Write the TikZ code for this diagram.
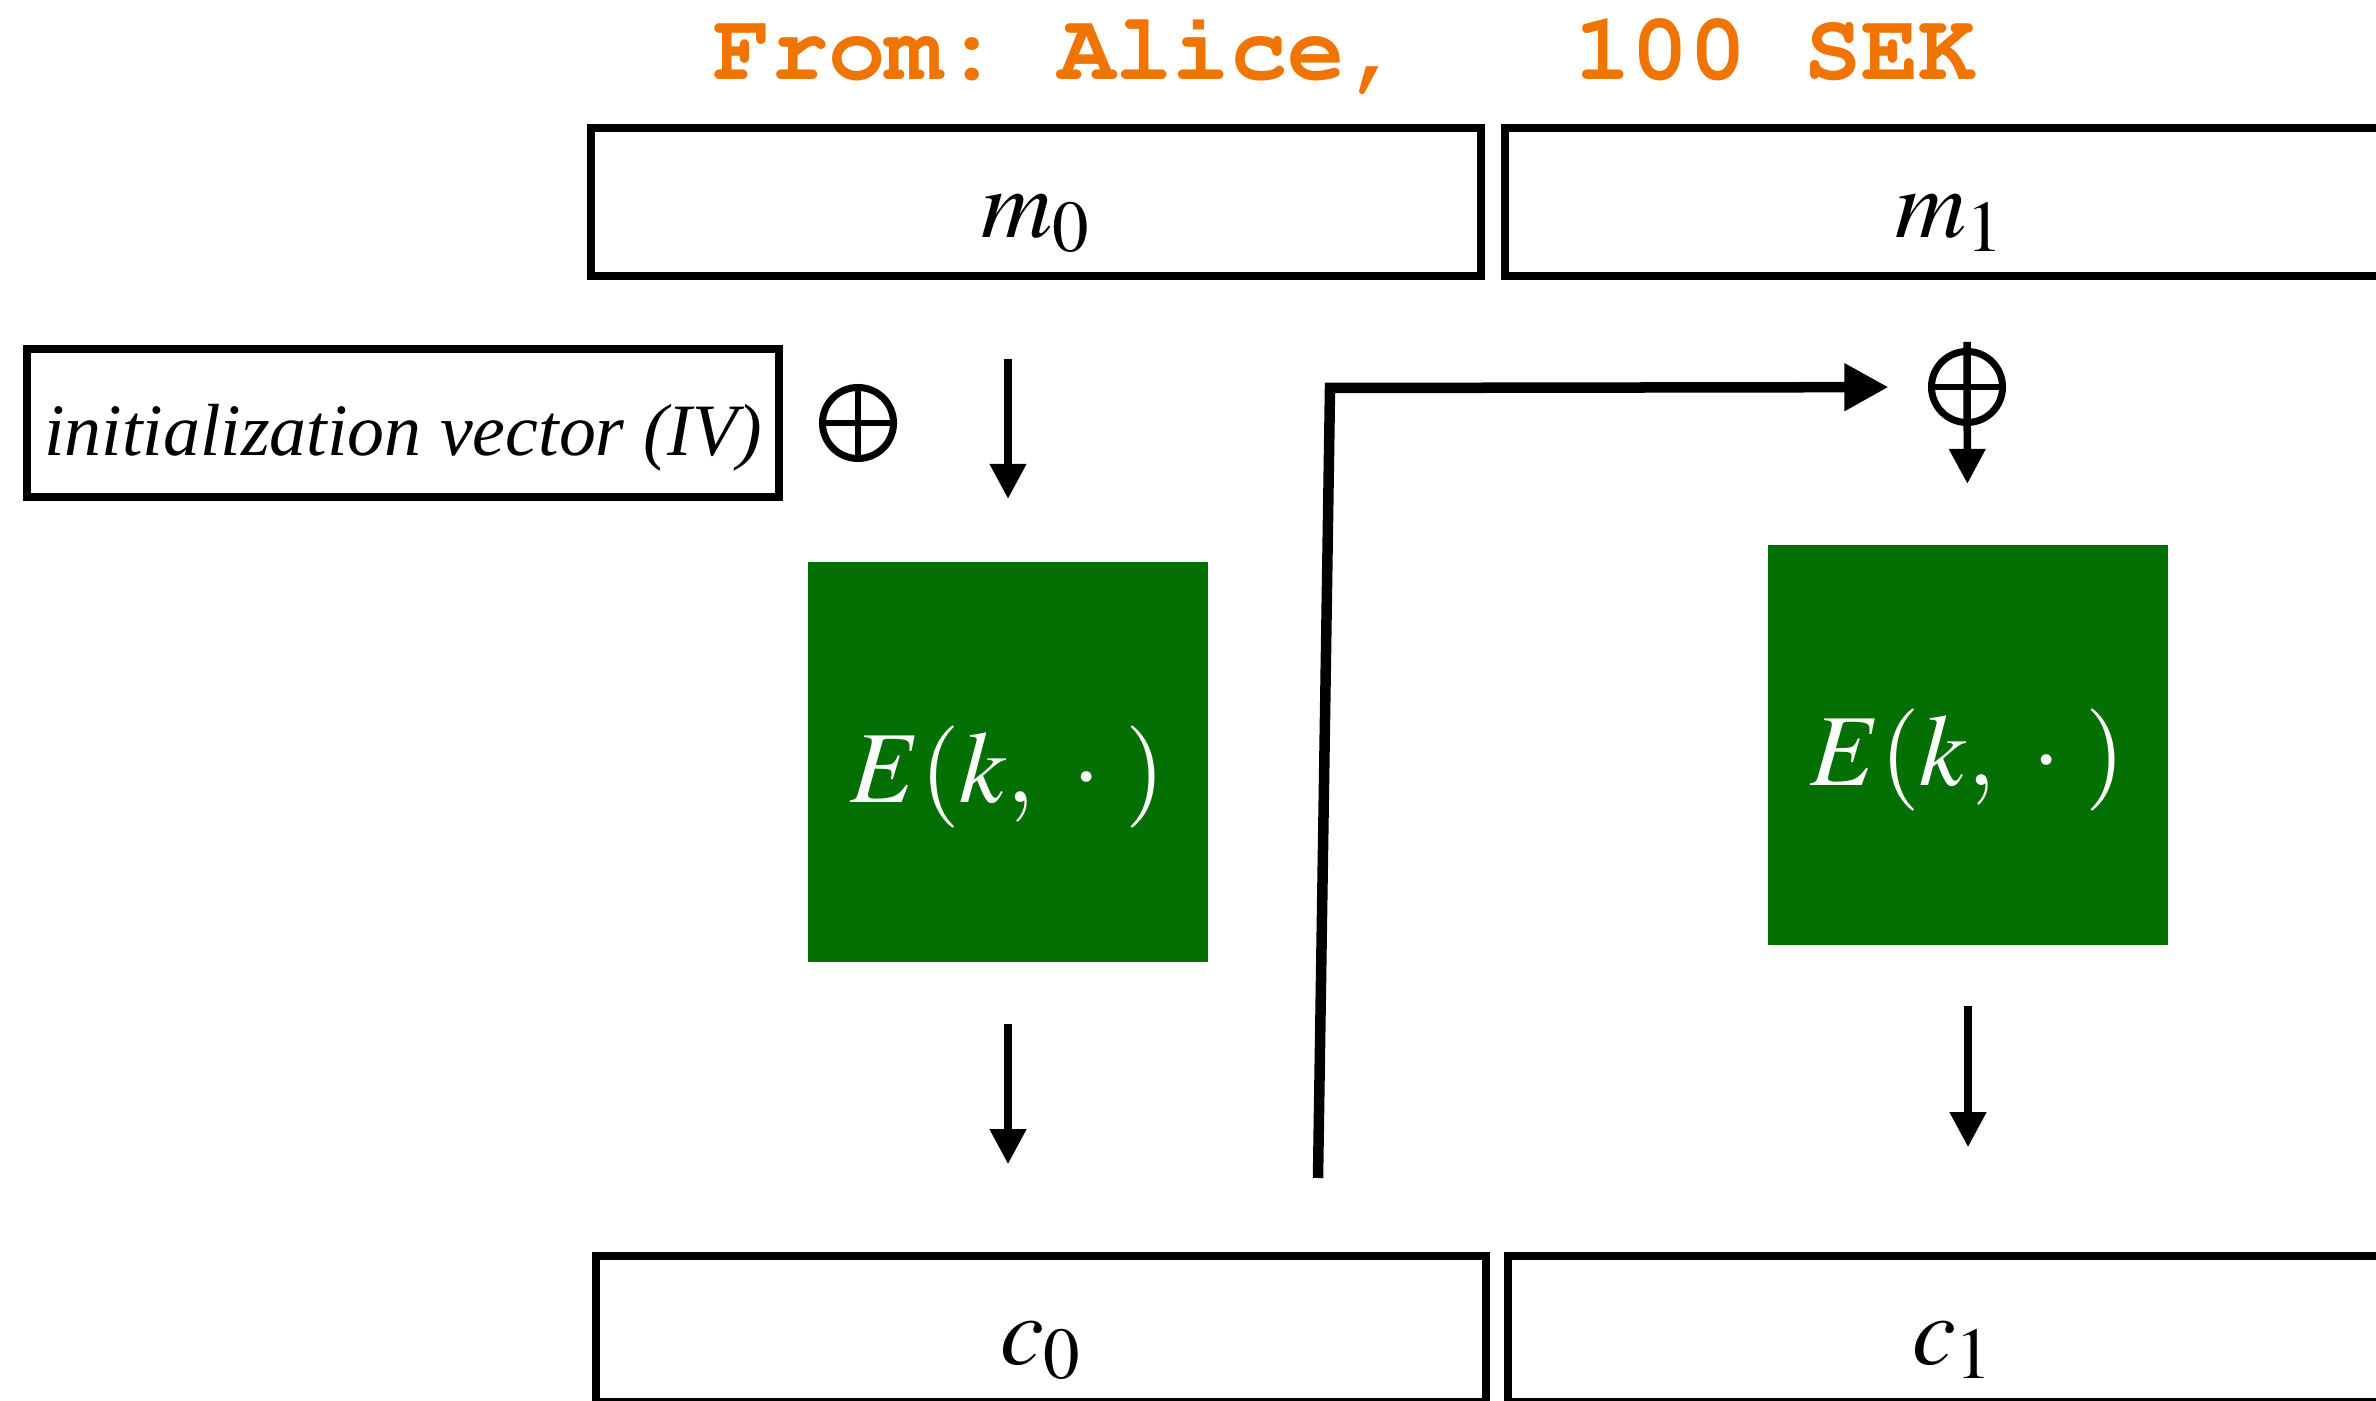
\documentclass[tikz,border=0pt]{standalone}
\usepackage{mathptmx}
\usepackage{fontspec}
\setmainfont{Liberation Serif}
\usepackage{tikz}
\usetikzlibrary{arrows.meta}
\definecolor{encgreen}{RGB}{4,112,4}
\definecolor{titleorange}{RGB}{240,116,0}
\frenchspacing

\begin{document}
\begin{tikzpicture}[x=0.01cm, y=-0.01cm, >={Triangle[length=3.5mm, width=3.5mm]}]
      \tikzstyle{msg node} = [draw, rectangle, line width=0.8mm, inner sep=0pt, outer sep=0pt,
         minimum width=8.89cm, minimum height=1.47cm, text height=8mm, text depth=1mm,
         font=\fontsize{28}{34}\selectfont]
      \tikzstyle{enc node} = [fill=encgreen, text=white, inner sep=0pt, outer sep=0pt,
         minimum size=4cm, text height=9mm, text depth=1mm, font=\fontsize{29}{35}\selectfont]
      \tikzstyle{xor node} = [circle, draw, line width=0.7mm, inner sep=0pt, outer sep=0pt, minimum size=0.71cm,
         path picture={\draw[line width=0.55mm] (path picture bounding box.north) -- (path picture bounding box.south)
            (path picture bounding box.west) -- (path picture bounding box.east);}]
      \tikzstyle{flow} = [->, line width=0.75mm]
      \tikzstyle{feedback} = [-{Triangle[length=4.4mm, width=4.5mm]}, line width=1.05mm]
      \useasboundingbox (0,0) rectangle (2376,1401);
      \clip (0,0) rectangle (2376,1401);

      %nodes
      \node (title) [anchor=base, inner sep=0pt, text=titleorange,
         font=\fontencoding{OT1}\fontfamily{pcr}\fontseries{b}\fontsize{27.2}{33}\selectfont] at (1345,80) {From: Alice,\ \ \ 100 SEK};
      \node[msg node] (m0) at (1036,202) {$m_0$};
      \node[msg node] (m1) at (1950,202) {$m_1$};
      \node (iv) [draw, line width=0.8mm, inner sep=0pt, outer sep=0pt, minimum width=7.52cm, minimum height=1.48cm,
         text height=8.4mm, text depth=2mm, font=\fontsize{21}{25}\selectfont\itshape] at (403,423) {initialization vector (IV)};
      \node[xor node] (x0) at (858,423) {};
      \node[xor node] (x1) at (1967,387) {};
      \node[enc node] (enc0) at (1008,762) {$E(k,\ \cdot\ )$};
      \node[enc node] (enc1) at (1968,745) {$E(k,\ \cdot\ )$};
      \node[msg node, minimum height=1.455cm] (c0) at (1041,1329) {$c_0$};
      \node[msg node, minimum height=1.455cm] (c1) at (1953,1329) {$c_1$};
      \coordinate (fbstart) at (1318,1178);
      \coordinate (fbturn) at (1330,388);

      %lines
      \draw[flow, shorten <=8.3mm, shorten >=6.3mm] (m0.south -| enc0) -- (enc0);
      \draw[flow, shorten <=6.2mm, shorten >=9.2mm] (enc0) -- (c0.north -| enc0);
      \draw[flow, shorten >=6.1mm] ([yshift=4.5mm]x1.center) -- (enc1);
      \draw[flow, shorten <=6.1mm, shorten >=10.9mm] (enc1) -- (c1.north -| enc1);
      \draw[feedback, shorten >=4.3mm] (fbstart) -- (fbturn) -- (x1);
\end{tikzpicture}
\end{document}
